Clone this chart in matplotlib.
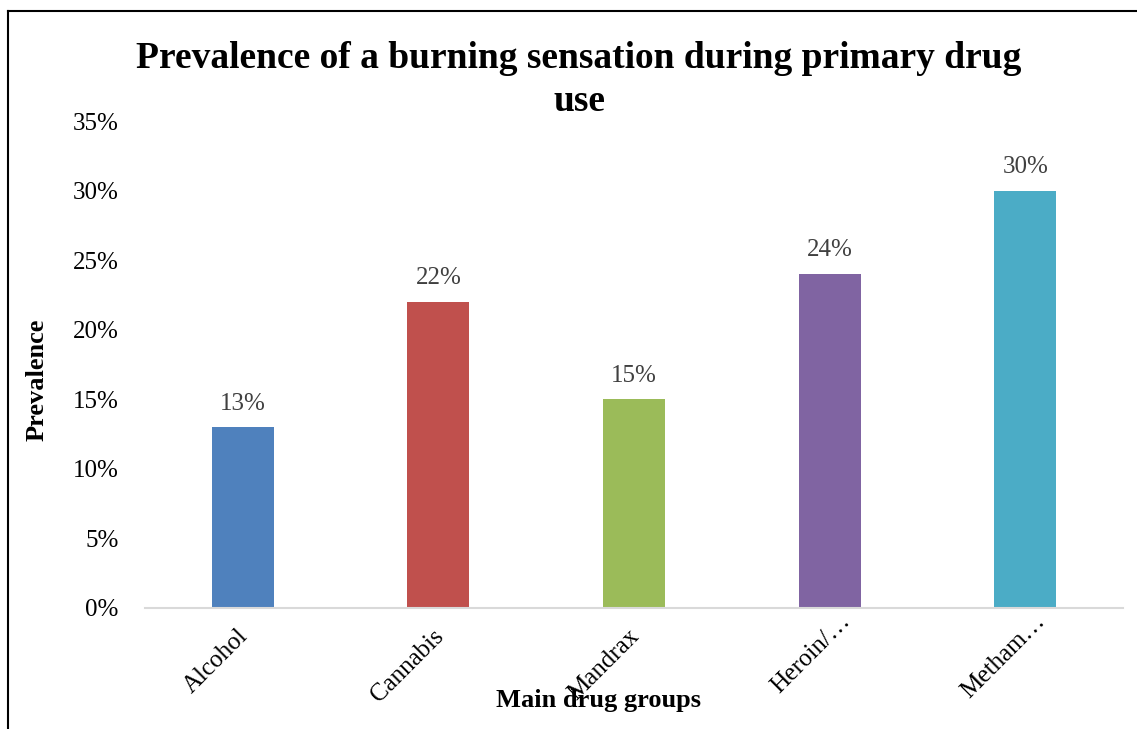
import matplotlib
matplotlib.use("Agg")
import matplotlib.pyplot as plt
from matplotlib.lines import Line2D
from matplotlib.transforms import offset_copy

categories = ["Alcohol", "Cannabis", "Mandrax", "Heroin/\u2026", "Metham\u2026"]
values = [0.13, 0.22, 0.15, 0.24, 0.30]
colors = ["#4F81BD", "#C0504D", "#9BBB59", "#8064A2", "#4BACC6"]
yticks = [0.0, 0.05, 0.10, 0.15, 0.20, 0.25, 0.30, 0.35]

plt.rcParams["font.family"] = ["Liberation Serif", "DejaVu Serif"]

W, H = 1137, 729
fig = plt.figure(figsize=(W / 100, H / 100), dpi=100)
ax = fig.add_axes([145 / W, 1 - 608 / H, (1123 - 145) / W, (608 - 121) / H])

x = list(range(len(categories)))
bars = ax.bar(x, values, width=0.317, color=colors, zorder=2)

ax.set_xlim(-0.5, len(categories) - 0.5)
ax.set_ylim(0, 0.35)
ax.set_yticks(yticks)
ax.set_yticklabels([f"{v:.0%}" for v in yticks], fontsize=18)
ax.tick_params(axis="y", length=0, pad=19)
ax.tick_params(axis="x", length=0)
ax.set_xticks(x)
ax.set_xticklabels([])

for s in ["left", "right", "top"]:
    ax.spines[s].set_visible(False)
ax.spines["bottom"].set_color("#D9D9D9")
ax.spines["bottom"].set_linewidth(1.5)

# value labels above bars
for xi, v in zip(x, values):
    ax.annotate(f"{v:.0%}", (xi, v), xytext=(0, 17), textcoords="offset points",
                ha="center", va="center", fontsize=18, color="#404040")

# rotated category labels; truncated labels fill the whole label box,
# so their end sits a little further along the 45-degree direction
for xi, c in zip(x, categories):
    extra = 15 if c.endswith("\u2026") else 0
    tr = offset_copy(ax.get_xaxis_transform(), fig=fig,
                     x=2 + extra, y=-25 + extra, units="dots")
    ax.text(xi, 0, c, transform=tr, rotation=45, rotation_mode="anchor",
            ha="right", va="center", fontsize=18, color="#000000")

fig.text(579 / W, 1 - 80 / H, "Prevalence of a burning sensation during primary drug\nuse",
         ha="center", va="center", fontsize=27, fontweight="bold", linespacing=1.28)
fig.text(599 / W, 1 - 700 / H, "Main drug groups", ha="center", va="center",
         fontsize=19, fontweight="bold")
fig.text(37 / W, 1 - 380 / H, "Prevalence", ha="center", va="center", rotation=90,
         fontsize=19, fontweight="bold")

# frame lines along the left and top edges
fig.add_artist(Line2D([8 / W, 8 / W], [0, 1 - 11 / H], transform=fig.transFigure,
                      color="black", linewidth=1.5))
fig.add_artist(Line2D([8 / W, 1], [1 - 11 / H, 1 - 11 / H], transform=fig.transFigure,
                      color="black", linewidth=1.5))

fig.savefig("out.png", dpi=100)
